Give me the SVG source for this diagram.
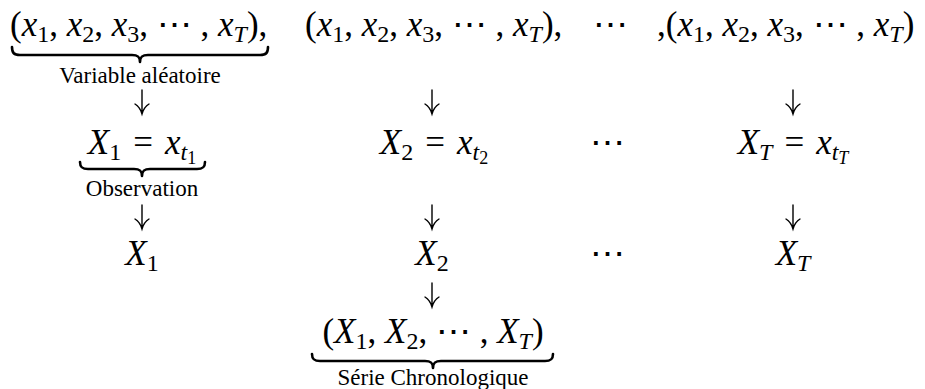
<svg xmlns="http://www.w3.org/2000/svg" width="925" height="389" viewBox="0 0 925 389">
<style>
text{font-family:"Liberation Serif","DejaVu Serif",serif;fill:#000}
.m{font-size:35px}
.i{font-style:italic}
.s{font-size:24px}
.ss{font-size:18px}
.lbl{font-size:23px}
.br{fill:none;stroke:#000;stroke-width:2.6;stroke-linecap:round;stroke-linejoin:round}
.ar{fill:none;stroke:#000;stroke-width:1.4;stroke-linecap:round}
</style>
<rect width="925" height="389" fill="#fff"/>
<g id="tuple1">
<text class="m" x="10" y="36">(<tspan class="i">x</tspan><tspan class="s" dy="6">1</tspan><tspan dy="-6">, </tspan><tspan class="i">x</tspan><tspan class="s" dy="6">2</tspan><tspan dy="-6">, </tspan><tspan class="i">x</tspan><tspan class="s" dy="6">3</tspan><tspan dy="-6">, ⋯ , </tspan><tspan class="i">x</tspan><tspan class="s i" dy="6">T</tspan><tspan dy="-6">),</tspan></text>
<path class="br" d="M12 47 C12 53 14 55 20 55 L132 55 C138 55 140 57 140 62 C140 57 142 55 148 55 L260 55 C266 55 268 53 268 47"/>
<text class="lbl" x="140" y="83" text-anchor="middle">Variable aléatoire</text>
</g>
<g id="tuple2">
<text class="m" x="305" y="36">(<tspan class="i">x</tspan><tspan class="s" dy="6">1</tspan><tspan dy="-6">, </tspan><tspan class="i">x</tspan><tspan class="s" dy="6">2</tspan><tspan dy="-6">, </tspan><tspan class="i">x</tspan><tspan class="s" dy="6">3</tspan><tspan dy="-6">, ⋯ , </tspan><tspan class="i">x</tspan><tspan class="s i" dy="6">T</tspan><tspan dy="-6">),</tspan></text>
</g>
<g id="dots1"><text class="m" x="610" y="36" text-anchor="middle">⋯</text></g>
<g id="tupleT">
<text class="m" x="657" y="36">,(<tspan class="i">x</tspan><tspan class="s" dy="6">1</tspan><tspan dy="-6">, </tspan><tspan class="i">x</tspan><tspan class="s" dy="6">2</tspan><tspan dy="-6">, </tspan><tspan class="i">x</tspan><tspan class="s" dy="6">3</tspan><tspan dy="-6">, ⋯ , </tspan><tspan class="i">x</tspan><tspan class="s i" dy="6">T</tspan><tspan dy="-6">)</tspan></text>
</g>
<g id="obs1">
<text class="m" x="142" y="154" text-anchor="middle"><tspan class="i">X</tspan><tspan class="s" dy="6">1</tspan><tspan dy="-6" dx="12">=</tspan><tspan class="i" dx="12">x</tspan><tspan class="s i" dy="6">t</tspan><tspan class="ss" dy="4">1</tspan></text>
<path class="br" d="M80 162 C80 167 82 169 88 169 L134 169 C140 169 142 171 142 176 C142 171 144 169 150 169 L197 169 C203 169 205 167 205 162"/>
<text class="lbl" x="142" y="196" text-anchor="middle">Observation</text>
</g>
<g id="obs2">
<text class="m" x="434" y="154" text-anchor="middle"><tspan class="i">X</tspan><tspan class="s" dy="6">2</tspan><tspan dy="-6" dx="12">=</tspan><tspan class="i" dx="12">x</tspan><tspan class="s i" dy="6">t</tspan><tspan class="ss" dy="4">2</tspan></text>
</g>
<g id="dots2"><text class="m" x="607" y="154" text-anchor="middle">⋯</text></g>
<g id="obsT">
<text class="m" x="793" y="154" text-anchor="middle"><tspan class="i">X</tspan><tspan class="s i" dy="6">T</tspan><tspan dy="-6" dx="12">=</tspan><tspan class="i" dx="12">x</tspan><tspan class="s i" dy="6">t</tspan><tspan class="ss i" dy="4">T</tspan></text>
</g>
<g id="X1"><text class="m" x="142" y="265" text-anchor="middle"><tspan class="i">X</tspan><tspan class="s" dy="6">1</tspan></text></g>
<g id="X2"><text class="m" x="432" y="265" text-anchor="middle"><tspan class="i">X</tspan><tspan class="s" dy="6">2</tspan></text></g>
<g id="dots3"><text class="m" x="607" y="265" text-anchor="middle">⋯</text></g>
<g id="XT"><text class="m" x="793" y="265" text-anchor="middle"><tspan class="i">X</tspan><tspan class="s i" dy="6">T</tspan></text></g>
<g id="serie">
<text class="m" x="433" y="343" text-anchor="middle">(<tspan class="i">X</tspan><tspan class="s" dy="6">1</tspan><tspan dy="-6">, </tspan><tspan class="i">X</tspan><tspan class="s" dy="6">2</tspan><tspan dy="-6">, ⋯ , </tspan><tspan class="i">X</tspan><tspan class="s i" dy="6">T</tspan><tspan dy="-6">)</tspan></text>
<path class="br" d="M312 354 C312 359 314 361 320 361 L425 361 C431 361 433 363 433 368 C433 363 435 361 441 361 L545 361 C551 361 553 359 553 354"/>
<text class="lbl" x="433" y="385" text-anchor="middle">Série Chronologique</text>
</g>
<g id="connectors">
<path class="ar" d="M142 90 V113 M135 104 Q140 107 142 114 Q144 107 149 104"/>
<path class="ar" d="M432 90 V113 M425 104 Q430 107 432 114 Q434 107 439 104"/>
<path class="ar" d="M793 90 V113 M786 104 Q791 107 793 114 Q795 107 800 104"/>
<path class="ar" d="M142 205 V228 M135 219 Q140 222 142 229 Q144 222 149 219"/>
<path class="ar" d="M432 205 V228 M425 219 Q430 222 432 229 Q434 222 439 219"/>
<path class="ar" d="M793 205 V228 M786 219 Q791 222 793 229 Q795 222 800 219"/>
<path class="ar" d="M432 283 V306 M425 297 Q430 300 432 307 Q434 300 439 297"/>
</g>
</svg>
